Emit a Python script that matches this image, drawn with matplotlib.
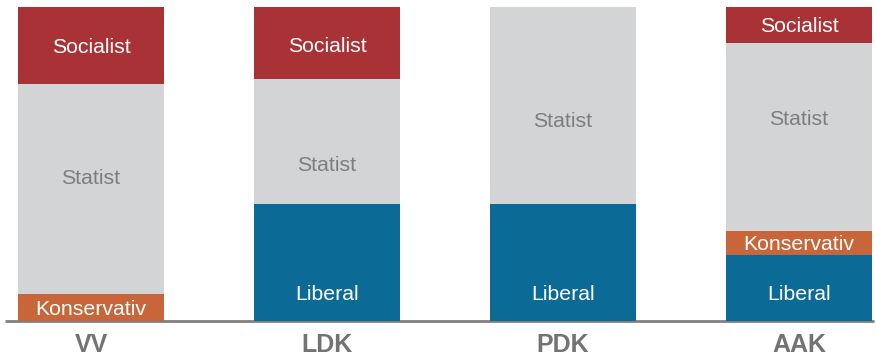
import matplotlib
matplotlib.use("Agg")
import matplotlib.pyplot as plt
import numpy as np

plt.rcParams['font.family'] = ['Liberation Sans', 'DejaVu Sans']

parties = ["VV", "LDK", "PDK", "AAK"]
# stack order bottom -> top
liberal     = [0.0, 37.2, 37.2, 20.9]
konservativ = [8.4, 0.0, 0.0, 7.7]
statist     = [67.1, 39.9, 62.8, 60.0]
socialist   = [24.5, 22.9, 0.0, 11.4]

series = [
    ("Liberal", liberal, "#0b6a96", "white"),
    ("Konservativ", konservativ, "#c8663a", "white"),
    ("Statist", statist, "#d3d4d6", "#7d7e80"),
    ("Socialist", socialist, "#a83236", "white"),
]

# label anchor position within each segment (fraction of segment height from bottom)
label_frac = {
    "Liberal": [0.24, 0.24, 0.24, 0.43],
    "Konservativ": [0.5, 0.5, 0.5, 0.5],
    "Statist": [0.56, 0.32, 0.43, 0.60],
    "Socialist": [0.5, 0.48, 0.5, 0.5],
}

W, H = 876, 358
fig = plt.figure(figsize=(W / 100, H / 100), dpi=100)
ax = fig.add_axes([0, (H - 320.5) / H, 1, 313.5 / H])
ax.set_xlim(-91 / 236, -91 / 236 + W / 236)
ax.set_ylim(0, 100)
ax.axis("off")

x = np.arange(len(parties))
bw = 146 / 236
bottom = np.zeros(len(parties))
for name, vals, col, tcol in series:
    vals = np.array(vals)
    ax.bar(x, vals, bw, bottom=bottom, color=col, linewidth=0, zorder=2)
    for i, v in enumerate(vals):
        if v > 0:
            y = bottom[i] + v * label_frac[name][i] - 0.6
            ax.text(x[i], y, name, ha="center", va="center", color=tcol,
                    fontsize=15.3)
    bottom = bottom + vals

# baseline
ax.plot([-86 / 236, (874 - 91) / 236], [0, 0], color="#808080", lw=2,
        clip_on=False, zorder=1, solid_capstyle="butt")

for i, p in enumerate(parties):
    ax.text(x[i], -7.9, p, ha="center", va="center", fontsize=18,
            fontweight="bold", color="#737373")

fig.savefig("out.png", dpi=100)
